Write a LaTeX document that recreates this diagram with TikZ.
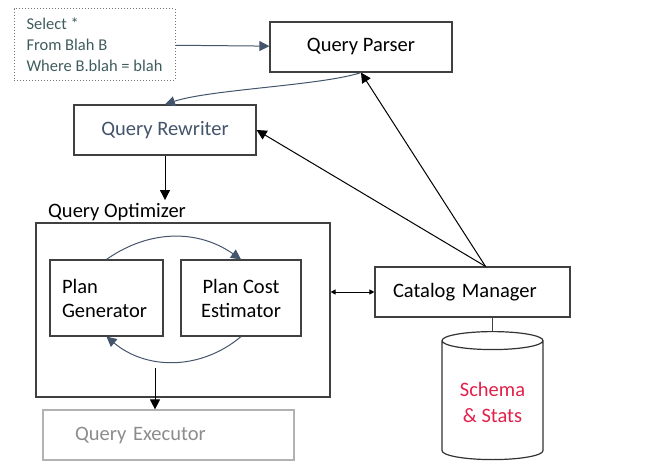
\documentclass[tikz,border=0pt]{standalone}
\usepackage{fontspec}
\setmainfont{Carlito}
\usetikzlibrary{arrows.meta,shapes.geometric,positioning}
\definecolor{slate}{HTML}{44546A}
\definecolor{sqlgray}{HTML}{3F5C5C}
\definecolor{schemared}{HTML}{E3204A}

\begin{document}
\begin{tikzpicture}[x=1pt,y=1pt,>={Triangle[length=10pt,width=10pt]},
  main node/.style={rectangle,draw=black!75,line width=1.2pt,
  font=\fontsize{20.5}{24}\selectfont,minimum width=182pt,minimum height=50pt},
  inner node/.style={main node,minimum width=113pt,minimum height=76pt,inner xsep=12pt},
  sql node/.style={rectangle,draw=black!55,dotted,line width=1pt,text=sqlgray,
  font=\fontsize{16.5}{21}\selectfont,minimum width=161pt,minimum height=71pt,
  align=left},
  db node/.style={cylinder,shape border rotate=90,draw=black!80,line width=1.2pt,
  minimum width=101pt,minimum height=128pt,aspect=0.25,text=schemared,align=center,
  font=\fontsize{20.5}{26}\selectfont}]

  \useasboundingbox (0,0) rectangle (652,467);

  \node[sql node] (sql) at (94.5,422.5) {Select *\\From Blah B\\Where B.blah = blah};
  \node[main node] (parser) at (361,420) {Query Parser};
  \node[main node,text=slate] (rewriter) at (165,337) {Query Rewriter};
  \node[main node,minimum width=294pt,minimum height=174pt] (opt) at (183,157) {};
  \node[font=\fontsize{20.5}{24}\selectfont,anchor=west,inner sep=3pt] (optlabel) at (45,255) {Query Optimizer};
  \node[inner node,text width=89pt,align=left] (gen) at (106.5,169) {Plan\\Generator};
  \node[inner node,minimum width=120pt,align=center] (est) at (241,169) {Plan Cost\\Estimator};
  \node[main node,draw=black!30,text=black!45,minimum width=251pt,
  text width=187pt,inner xsep=32pt,align=left] (exec) at (168.5,32) {Query Executor};
  \node[main node,minimum width=195pt,text width=159pt,inner xsep=18pt,align=left] (cat) at (472.5,175) {Catalog Manager};
  \node[db node] (db) at (492.5,65) {Schema\\\& Stats};

  \coordinate (catTop) at ([xshift=13pt]cat.north);
  \coordinate (optOut) at (155,99);

  %Blue arrows: query text, parser, and the plan loop%
  \path[->,slate,line width=1pt]
    (sql) edge (parser)
    (gen.north) edge [bend left=35] (est.north)
    (est.south) edge [bend left=40] (gen.south);
  \draw[->,slate,line width=1pt] (parser.south)
    .. controls +(-40,-13) and +(45,15) .. (rewriter.north);

  %Black arrows%
  \path[->,line width=1pt]
    (catTop) edge (parser.south)
    (catTop) edge (rewriter.east)
    (rewriter.south) edge (rewriter.south |- optlabel.north)
    (optOut) edge (optOut |- exec.north);

  %Optimizer and catalog talk both ways
  \draw[{Triangle[length=5pt,width=5pt]}-{Triangle[length=5pt,width=5pt]},line width=1pt]
    (opt.east |- cat.west) -- (cat.west);
  \draw[line width=1.2pt,draw=black!75] (db.north |- cat.south) -- (db.north);

\end{tikzpicture}
\end{document}
